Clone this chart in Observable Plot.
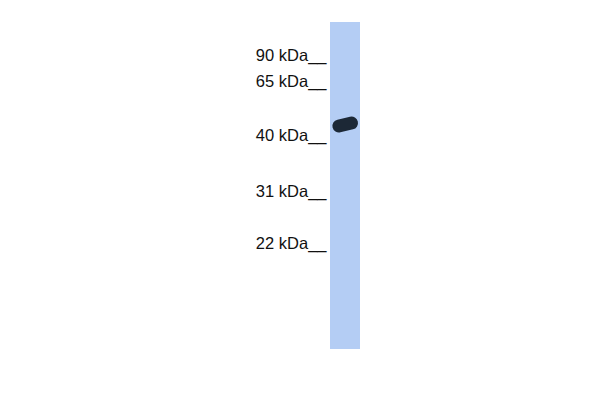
<!DOCTYPE html>
<html>
<head>
<meta charset="utf-8">
<script src="https://cdn.jsdelivr.net/npm/d3@7"></script>
<script src="https://cdn.jsdelivr.net/npm/@observablehq/plot@0.6"></script>
<style>
  html, body { margin: 0; padding: 0; background: #fff; }
  #chart svg { display: block; }
</style>
</head>
<body>
<div id="chart"></div>
<script>
// Marker ladder (kDa) and their migration distance from the lane top
const markerLabels = ["90 kDa__", "65 kDa__", "40 kDa__", "31 kDa__", "22 kDa__"];
const markerMigration = [33, 59.5, 113, 169.5, 221];
// Detected band: lane-relative x positions and migration at each end
const bandX = [0.28, 0.7];
const bandMigration = [103.5, 100.5];
// Lane extent (fraction of lane width, migration range)
const laneX = [0, 1];
const laneMigration = [0, 327];

const markers = markerLabels.map((label, i) => ({label, y: markerMigration[i]}));
const band = bandX.map((x, i) => ({x, y: bandMigration[i]}));
const lane = [{x1: laneX[0], x2: laneX[1], y1: laneMigration[0], y2: laneMigration[1]}];

const chart = Plot.plot({
  width: 600,
  height: 400,
  marginLeft: 330,
  marginRight: 240,
  marginTop: 22,
  marginBottom: 51,
  x: {domain: laneX, axis: null},
  y: {domain: laneMigration, reverse: true, axis: null},
  style: {fontFamily: "'Liberation Sans', Arial, sans-serif", background: "#fff"},
  marks: [
    Plot.rect(lane, {x1: "x1", x2: "x2", y1: "y1", y2: "y2", fill: "#b4cdf4"}),
    Plot.line(band, {x: "x", y: "y", stroke: "#1c2836", strokeWidth: 13, strokeLinecap: "round", style: "filter: blur(0.7px)"}),
    Plot.text(markers, {x: () => 0, y: "y", text: "label", textAnchor: "end", dx: -4, fontSize: 16.5, fill: "#111"})
  ]
});
document.getElementById("chart").appendChild(chart);
</script>
</body>
</html>
